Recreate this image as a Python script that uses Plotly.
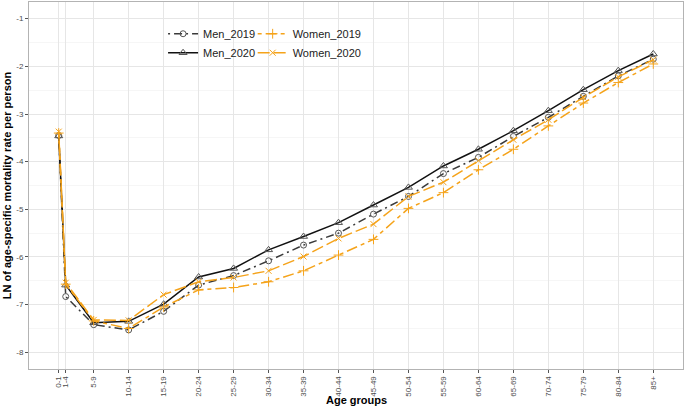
import plotly.graph_objects as go

ages = [0, 1, 5, 10, 15, 20, 25, 30, 35, 40, 45, 50, 55, 60, 65, 70, 75, 80, 85]
age_labels = ["0-1", "1-4", "5-9", "10-14", "15-19", "20-24", "25-29", "30-34", "35-39",
              "40-44", "45-49", "50-54", "55-59", "60-64", "65-69", "70-74", "75-79",
              "80-84", "85+"]

men_2019 = [-3.45, -6.83, -7.42, -7.53, -7.14, -6.59, -6.39, -6.08, -5.75, -5.50,
            -5.10, -4.73, -4.25, -3.91, -3.47, -3.07, -2.63, -2.20, -1.85]
men_2020 = [-3.46, -6.59, -7.38, -7.35, -6.99, -6.42, -6.24, -5.85, -5.57, -5.28,
            -4.91, -4.54, -4.09, -3.74, -3.35, -2.93, -2.49, -2.09, -1.74]
women_2019 = [-3.40, -6.57, -7.34, -7.50, -7.05, -6.69, -6.64, -6.52, -6.29, -5.96,
              -5.63, -4.98, -4.65, -4.17, -3.74, -3.25, -2.77, -2.34, -1.95]
women_2020 = [-3.37, -6.54, -7.32, -7.33, -6.79, -6.52, -6.43, -6.29, -5.99, -5.61,
              -5.31, -4.73, -4.43, -3.98, -3.54, -3.12, -2.65, -2.22, -1.86]

y_ticks = [-8, -7, -6, -5, -4, -3, -2, -1]

ORANGE = "#F5A31A"
FONT = "Liberation Sans, Arial, sans-serif"

fig = go.Figure()
fig.add_trace(go.Scatter(
    x=ages, y=men_2019, name="Men_2019", mode="lines+markers", legend="legend",
    line=dict(color="#3a3a3a", width=1.5, dash="2px,4px,8px,4px"),
    marker=dict(symbol="circle-open", size=6, color="#555555", line=dict(width=1))))
fig.add_trace(go.Scatter(
    x=ages, y=men_2020, name="Men_2020", mode="lines+markers", legend="legend",
    line=dict(color="#111111", width=1.5),
    marker=dict(symbol="triangle-up-open", size=7, color="#555555", line=dict(width=1))))
fig.add_trace(go.Scatter(
    x=ages, y=women_2019, name="Women_2019", mode="lines+markers", legend="legend2",
    line=dict(color=ORANGE, width=1.5, dash="4px,4px,11px,4px"),
    marker=dict(symbol="cross-thin-open", size=7, color=ORANGE, line=dict(width=1, color=ORANGE))))
fig.add_trace(go.Scatter(
    x=ages, y=women_2020, name="Women_2020", mode="lines+markers", legend="legend2",
    line=dict(color=ORANGE, width=1.5, dash="12px,4px"),
    marker=dict(symbol="x-thin-open", size=6, color=ORANGE, line=dict(width=1, color=ORANGE))))

legend_common = dict(bgcolor="rgba(0,0,0,0)", font=dict(family=FONT, size=11, color="#222222"),
                     xanchor="left", yanchor="top", tracegroupgap=0)

fig.update_layout(
    width=685, height=408,
    margin=dict(l=29, r=2, t=2, b=39),
    paper_bgcolor="white", plot_bgcolor="white",
    hovermode=False,
    font=dict(family=FONT, color="#4d4d4d"),
    legend=dict(x=0.205, y=0.953, **legend_common),
    legend2=dict(x=0.342, y=0.953, **legend_common),
    shapes=[dict(type="rect", xref="paper", yref="paper", x0=0.205, x1=0.53,
                 y0=0.835, y1=0.94, fillcolor="white", line=dict(width=0), layer="between")],
    annotations=[dict(text="<b>Age groups</b>", xref="paper", yref="paper", x=0.5, y=-0.085,
                      xanchor="center", yanchor="middle", showarrow=False,
                      font=dict(family=FONT, size=11, color="black"))],
    xaxis=dict(
        range=[-4.25, 89.25], tickmode="array", tickvals=ages, ticktext=age_labels,
        tickangle=-90, tickfont=dict(size=8, color="#4d4d4d"), automargin=False,
        showgrid=True, gridcolor="#e6e6e6", gridwidth=1, zeroline=False,
        showline=True, linecolor="#b3b3b3", linewidth=1, mirror=True,
        ticks="outside", ticklen=3, tickcolor="#555555", fixedrange=True,
    ),
    yaxis=dict(
        range=[-8.35, -0.65], tickmode="array", tickvals=y_ticks,
        ticktext=[str(v) for v in y_ticks], automargin=False,
        tickfont=dict(size=8, color="#4d4d4d"), fixedrange=True,
        showgrid=True, gridcolor="#e6e6e6", gridwidth=1, zeroline=False,
        showline=True, linecolor="#b3b3b3", linewidth=1, mirror=True,
        ticks="outside", ticklen=3, tickcolor="#555555",
        minor=dict(dtick=0.5, tick0=-8, showgrid=True, gridcolor="#f0f0f0", gridwidth=0.6, ticks=""),
        title=dict(text="LN of age-specific mortality rate per person",
                   font=dict(size=11, color="black", weight="bold"), standoff=2),
    ),
)

fig.write_html("out.html", config={"displayModeBar": False, "staticPlot": True},
               post_script="document.body.style.margin='0px';")
